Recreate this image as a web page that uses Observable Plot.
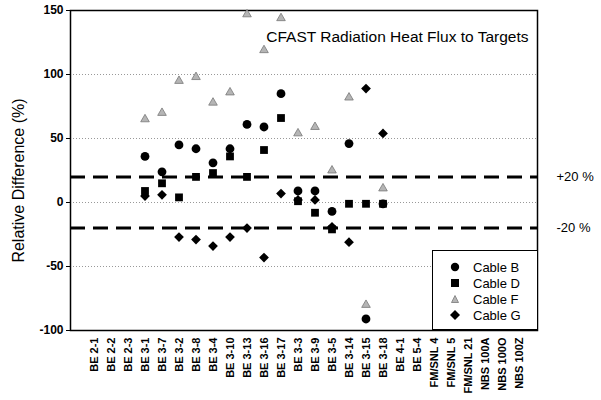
<!DOCTYPE html>
<html>
<head>
<meta charset="utf-8">
<script src="https://cdn.jsdelivr.net/npm/d3@7"></script>
<script src="https://cdn.jsdelivr.net/npm/@observablehq/plot@0.6"></script>
<style>
  html, body { margin: 0; padding: 0; background: white; }
  #wrap { position: relative; width: 601px; height: 400px; font-family: 'Liberation Sans', Arial, sans-serif; }
  #legend { position: absolute; left: 432px; top: 250px; width: 106px; height: 80px; box-sizing: border-box;
            border: 1.5px solid black; background: white; }
  .lrow { position: absolute; left: 0; height: 16px; display: flex; align-items: center; font-size: 13px; }
  .lrow svg { margin-left: 17px; margin-right: 13px; }
</style>
</head>
<body>
<div id="wrap"></div>
<script>
const categories = ["BE 2-1","BE 2-2","BE 2-3","BE 3-1","BE 3-7","BE 3-2","BE 3-8","BE 3-4","BE 3-10","BE 3-13","BE 3-16","BE 3-17","BE 3-3","BE 3-9","BE 3-5","BE 3-14","BE 3-15","BE 3-18","BE 4-1","BE 5-4","FM/SNL 4","FM/SNL 5","FM/SNL 21","NBS 100A","NBS 100O","NBS 100Z"];
const cableNames = ["Cable B","Cable D","Cable F","Cable G"];
const cableB = [null,null,null,36,24,45,42,31,42,61,59,85,9,9,-7,46,-91,-1,null,null,null,null,null,null,null,null];
const cableD = [null,null,null,9,15,4,20,23,36,20,41,66,1,-8,-21,-1,-1,-1,null,null,null,null,null,null,null,null];
const cableF = [null,null,null,65,70,95,98,78,86,147,119,144,54,59,25,82,-80,11,null,null,null,null,null,null,null,null];
const cableG = [null,null,null,5,6,-27,-29,-34,-27,-20,-43,7,2,2,-19,-31,89,54,null,null,null,null,null,null,null,null];
const yTicks = [-100,-50,0,50,100,150];
const gridValues = [-50,0,50,100];
const limits = [20,-20];
const limitLabels = ["+20 %","-20 %"];
const chartTitle = "CFAST Radiation Heat Flux to Targets";
const yTitle = "Relative Difference (%)";

const seriesValues = [cableB, cableD, cableF, cableG];
const rows = [];
seriesValues.forEach((vals, s) => vals.forEach((v, i) => {
  if (v != null) rows.push({cat: categories[i], value: v, cable: cableNames[s]});
}));

const chart = Plot.plot({
  width: 601, height: 400,
  marginLeft: 70, marginRight: 64, marginTop: 10, marginBottom: 70,
  style: {fontFamily: "'Liberation Sans', Arial, sans-serif", background: "white", color: "black", overflow: "visible"},
  x: {type: "band", domain: categories, padding: 0, insetLeft: 13.4, insetRight: 8.4},
  y: {domain: [-100, 150]},
  symbol: {domain: cableNames, range: ["circle","square","triangle","diamond2"]},
  marks: [
    Plot.ruleY(gridValues, {stroke: "#999", strokeDasharray: "1,2", strokeWidth: 1}),
    Plot.ruleY(limits, {stroke: "black", strokeWidth: 3, strokeDasharray: "15,8"}),
    Plot.frame({stroke: "black", strokeWidth: 1.5}),
    Plot.axisY({ticks: yTicks, tickSize: 4, tickPadding: 3, tickFormat: d => String(d), label: null, fontSize: 12, fontWeight: "bold"}),
    Plot.axisX({tickRotate: -90, tickSize: 0, tickPadding: 7, label: null, fontSize: 11, fontWeight: "bold"}),
    Plot.dot(rows.filter(d => d.cable === "Cable F"), {x: "cat", y: "value", symbol: "cable", fill: "#b5b5b5", stroke: "#777", strokeWidth: 0.8, r: 3.2}),
    Plot.dot(rows.filter(d => d.cable !== "Cable F"), {x: "cat", y: "value", symbol: "cable", fill: "black", r: 4.4}),
    Plot.text([chartTitle], {text: d => d, frameAnchor: "top-right", dx: -9, dy: 20, fontSize: 15.5}),
    Plot.text(limitLabels, {text: d => d, y: (d, i) => limits[i], frameAnchor: "right", dx: 19, textAnchor: "start", fontSize: 13}),
    Plot.text([yTitle], {text: d => d, frameAnchor: "left", textAnchor: "middle", lineAnchor: "middle", rotate: -90, dx: -52, dy: 10, fontSize: 16})
  ]
});

const wrap = document.getElementById("wrap");
wrap.appendChild(chart);

// Legend
const legend = document.createElement("div");
legend.id = "legend";
const sym = {
  "Cable B": '<circle cx="5" cy="5" r="4.2" fill="black"/>',
  "Cable D": '<rect x="1" y="1" width="8" height="8" fill="black"/>',
  "Cable F": '<path d="M5,1.5 L8.5,8.5 L1.5,8.5 Z" fill="#b5b5b5" stroke="#777" stroke-width="0.8"/>',
  "Cable G": '<path d="M5,0 L10,5 L5,10 L0,5 Z" fill="black"/>'
};
const rowTops = [8, 24, 40, 56];
cableNames.forEach((name, i) => {
  const r = document.createElement("div");
  r.className = "lrow";
  r.style.top = rowTops[i] + "px";
  r.innerHTML = '<svg width="10" height="10" viewBox="0 0 10 10">' + sym[name] + '</svg><span>' + name + '</span>';
  legend.appendChild(r);
});
wrap.appendChild(legend);
</script>
</body>
</html>
